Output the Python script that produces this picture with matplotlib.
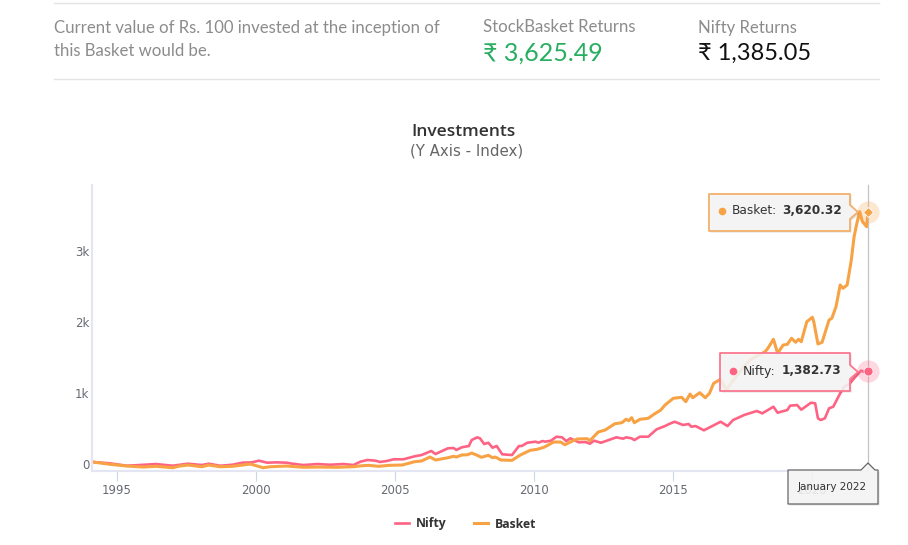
import matplotlib
matplotlib.use("Agg")
import matplotlib.pyplot as plt
from matplotlib.patches import Polygon
from matplotlib.lines import Line2D
from matplotlib.transforms import ScaledTranslation

# values
nifty_years = [1994.1, 1994.75, 1995.35, 1995.8, 1996.4, 1997, 1997.55, 1998.05, 1998.3, 1998.7, 1999.15, 1999.5,
               1999.85, 2000.1, 2000.4, 2000.75, 2001.1, 2001.3, 2001.7, 2002.2, 2002.65, 2003.15, 2003.5, 2003.75,
               2004.0, 2004.3, 2004.45, 2004.7, 2004.95, 2005.3, 2005.7, 2005.95, 2006.3, 2006.45, 2006.9, 2007.1,
               2007.2, 2007.4, 2007.65, 2007.75, 2007.95, 2008.05, 2008.2, 2008.35, 2008.5, 2008.65, 2008.85, 2009.2,
               2009.45, 2009.55, 2009.75, 2010.05, 2010.15, 2010.3, 2010.4, 2010.6, 2010.8, 2011.0, 2011.15, 2011.3,
               2011.6, 2011.85, 2012.0, 2012.15, 2012.4, 2012.95, 2013.2, 2013.3, 2013.5, 2013.6, 2013.8, 2014.1,
               2014.4, 2014.7, 2014.85, 2015.05, 2015.35, 2015.55, 2015.65, 2015.8, 2016.1, 2016.4, 2016.7, 2016.95,
               2017.15, 2017.55, 2018.0, 2018.2, 2018.6, 2018.75, 2019.1, 2019.2, 2019.45, 2019.6, 2019.95, 2020.1,
               2020.2, 2020.3, 2020.45, 2020.6, 2020.75, 2021.0, 2021.15, 2021.35, 2021.5, 2021.75, 2021.85, 2022.0]
nifty_values = [100, 80, 46, 56, 70, 46, 75, 56, 75, 46, 60, 89,
                94, 117, 89, 94, 89, 75, 56, 70, 60, 70, 56, 103,
                127, 117, 99, 113, 137, 137, 179, 197, 254, 211, 292, 296,
                268, 306, 324, 408, 446, 432, 352, 370, 300, 324, 207, 197,
                324, 324, 370, 385, 370, 394, 385, 399, 455, 446, 394, 432,
                376, 380, 356, 399, 370, 446, 427, 446, 432, 408, 455, 455,
                559, 605, 634, 666, 620, 634, 596, 605, 545, 605, 666, 605,
                690, 761, 817, 784, 877, 793, 831, 892, 901, 835, 934, 925,
                714, 690, 714, 855, 877, 1066, 1159, 1207, 1277, 1385, 1370, 1382.73]

basket_years = [1994.1, 1994.75, 1995.35, 1995.95, 1996.4, 1997, 1997.25, 1997.55, 1998.05, 1998.3, 1998.7, 1999.15,
                1999.8, 2000.25, 2000.5, 2001.1, 2001.7, 2002.2, 2002.9, 2003.5, 2003.75, 2004.05, 2004.4, 2004.8,
                2005.25, 2005.7, 2005.95, 2006.25, 2006.45, 2006.9, 2007.1, 2007.2, 2007.4, 2007.6, 2007.75, 2007.95,
                2008.1, 2008.35, 2008.5, 2008.6, 2008.8, 2009.2, 2009.5, 2009.85, 2010.1, 2010.35, 2010.7, 2010.95,
                2011.1, 2011.4, 2011.55, 2011.9, 2012, 2012.3, 2012.55, 2012.9, 2013.15, 2013.3, 2013.4, 2013.5,
                2013.6, 2013.8, 2014.1, 2014.3, 2014.55, 2014.7, 2015, 2015.3, 2015.45, 2015.6, 2015.7, 2015.95,
                2016.15, 2016.3, 2016.45, 2016.7, 2016.9, 2017.3, 2017.75, 2018.3, 2018.4, 2018.6, 2018.75, 2018.95,
                2019.1, 2019.25, 2019.4, 2019.5, 2019.6, 2019.8, 2020.0, 2020.05, 2020.2, 2020.35, 2020.6, 2020.7,
                2020.85, 2021.0, 2021.1, 2021.25, 2021.4, 2021.5, 2021.6, 2021.7, 2021.8, 2021.95, 2022.0]
basket_values = [100, 66, 42, 28, 38, 18, 42, 56, 32, 56, 32, 38,
                 70, 18, 32, 42, 24, 28, 24, 32, 44, 52, 38, 52,
                 56, 103, 113, 169, 127, 159, 179, 169, 197, 201, 225, 193,
                 165, 193, 159, 169, 127, 122, 197, 263, 277, 306, 380, 380,
                 342, 399, 423, 427, 399, 521, 549, 638, 652, 700, 680, 723,
                 652, 700, 714, 770, 831, 901, 996, 1010, 948, 1056, 1004, 1075,
                 1004, 1066, 1207, 1263, 1113, 1324, 1535, 1652, 1700, 1827, 1630, 1746,
                 1756, 1841, 1785, 1827, 1793, 2075, 2137, 2075, 1761, 1785, 2099, 2123,
                 2286, 2592, 2545, 2592, 2944, 3272, 3461, 3624, 3483, 3413, 3620.32]

year_ticks = [1995, 2000, 2005, 2010, 2015, 2020]
index_ticks = [0, 1000, 2000, 3000]
index_labels = ["0", "1k", "2k", "3k"]
basket_returns = "3,625.49"
nifty_returns = "1,385.05"

NIFTY = "#ff6384"
BASKET = "#f7a345"
RUPEE_FONT = ["Lato", "DejaVu Sans"]
HEAD_FONT = "Lato"

fig = plt.figure(figsize=(9.08, 5.45), dpi=100)
ax = fig.add_axes([92 / 908, (545 - 471) / 545, 776 / 908, 286 / 545])

ax.plot(nifty_years, nifty_values, c=NIFTY, lw=1.9, label="Nifty", solid_joinstyle="round")
ax.plot(basket_years, basket_values, c=BASKET, lw=2.2, label="Basket", solid_joinstyle="round")
ax.axvline(2022, c="#c4c4c4", lw=0.9, zorder=1, clip_on=False)

# hover markers on the last point
ax.plot(2022, basket_values[-1], "o", ms=16, c=BASKET, alpha=0.25, mew=0, clip_on=False)
ax.plot(2022, basket_values[-1], "D", ms=5, c=BASKET, mec="w", mew=0.6, clip_on=False)
ax.plot(2022, nifty_values[-1], "o", ms=16, c=NIFTY, alpha=0.25, mew=0, clip_on=False)
ax.plot(2022, nifty_values[-1], "o", ms=6.5, c=NIFTY, mec="w", mew=0.5, clip_on=False)

ax.set_xlim(1994.1, 2022)
ax.set_ylim(-28, 4000)
ax.set_xticks(year_ticks)
ax.set_yticks(index_ticks)
ax.set_yticklabels(index_labels)
ax.tick_params(axis="x", length=7.5, width=0.8, color="#ccd6eb", labelcolor="#666a72", labelsize=8.5, pad=2)
ax.tick_params(axis="y", length=0, labelcolor="#666a72", labelsize=8.5, pad=2)
for lab in ax.get_yticklabels():
    # labels sit a little above their value, like in the web chart
    lab.set_transform(lab.get_transform() + ScaledTranslation(0, 0.05, fig.dpi_scale_trans))
for side in ["top", "right"]:
    ax.spines[side].set_visible(False)
for side in ["left", "bottom"]:
    ax.spines[side].set_color("#e3e6f2")
    ax.spines[side].set_linewidth(1.5)

handles = [Line2D([], [], c=NIFTY, lw=1.9), Line2D([], [], c=BASKET, lw=2.2)]
leg = fig.legend(handles, ["Nifty", "Basket"], ncol=2, frameon=False, loc="center",
                 bbox_to_anchor=(465.5 / 908, 1 - 524 / 545), handlelength=1.15, columnspacing=2.2,
                 handletextpad=0.6, prop={"size": 8.8, "weight": "bold", "family": "Open Sans"})
for t in leg.get_texts():
    t.set_color("#333333")

# pixel overlay for the page header and the tooltips
ov = fig.add_axes([0, 0, 1, 1], zorder=5)
ov.set_xlim(0, 908)
ov.set_ylim(545, 0)
ov.axis("off")
ov.patch.set_visible(False)

for y in [3.2, 79.2]:
    ov.plot([54, 879], [y, y], c="#e4e4e4", lw=1)

head = dict(fontsize=12.1, color="#8c8c8c", family=HEAD_FONT, va="center")
ov.text(54, 27.5, "Current value of Rs. 100 invested at the inception of", **head)
ov.text(54, 50.5, "this Basket would be.", **head)
ov.text(483, 27.5, "StockBasket Returns", **head)
ov.text(698, 27.5, "Nifty Returns", **head)
ov.text(483, 53, "\u20b9 " + basket_returns, fontsize=18, color="#27ae60", family=RUPEE_FONT, va="center")
ov.text(698, 53, "\u20b9 " + nifty_returns, fontsize=17, color="#111111", family=RUPEE_FONT, va="center")

ov.text(463.5, 132, "Investments", fontsize=12.5, weight="semibold", color="#333333", family="Open Sans",
        ha="center", va="center")
ov.text(466.5, 151, "(Y Axis - Index)", fontsize=10.8, color="#666666", ha="center", va="center")


def tooltip(points, edge, width=1.3):
    shadow = [(x + 1.5, y + 1.5) for x, y in points]
    ov.add_patch(Polygon(shadow, closed=True, fc="#000000", ec="none", alpha=0.12))
    ov.add_patch(Polygon(points, closed=True, fc="#f7f7f7", ec="none", alpha=0.88))
    ov.add_patch(Polygon(points, closed=True, fc="none", ec=edge, lw=width, joinstyle="round"))


tooltip([(709, 194), (850, 194), (850, 205), (858, 212), (850, 219), (850, 231), (709, 231)], "#f2b06c")
ov.plot(722, 211, "o", ms=5.5, c=BASKET, mew=0)
ov.text(732, 211, "Basket:", fontsize=8.7, color="#333333", va="center")
ov.text(782, 211, "3,620.32", fontsize=8.7, weight="bold", color="#333333", va="center")

tooltip([(720, 353), (850, 353), (850, 365), (858, 372), (850, 379), (850, 391), (720, 391)], "#fb7791")
ov.plot(733, 371, "o", ms=5.5, c=NIFTY, mew=0)
ov.text(743, 371, "Nifty:", fontsize=9, color="#333333", va="center")
ov.text(782, 371, "1,382.73", fontsize=8.7, weight="bold", color="#333333", va="center")

tooltip([(788, 470), (861, 470), (868, 463), (875, 470), (878, 470), (878, 504), (788, 504)], "#666666", 0.9)
ov.text(832, 487, "January 2022", fontsize=7.5, color="#333333", ha="center", va="center")

plt.savefig("out.png", dpi=100)
